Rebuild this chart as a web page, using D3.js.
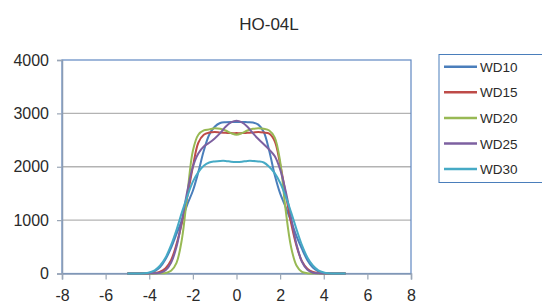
<!DOCTYPE html>
<html>
<head>
<meta charset="utf-8">
<script src="https://d3js.org/d3.v7.min.js"></script>
<style>
  body { margin: 0; background: #fff; }
  svg { display: block; font-family: "Liberation Sans", Arial, sans-serif; }
</style>
</head>
<body>
<svg width="542" height="305"></svg>
<script>
// data
var xs = [-5, -4.75, -4.5, -4.25, -4, -3.75, -3.5, -3.25, -3, -2.75, -2.5, -2.25, -2, -1.75, -1.5, -1.25, -1, -0.75, -0.5, -0.25,
          0, 0.25, 0.5, 0.75, 1, 1.25, 1.5, 1.75, 2, 2.25, 2.5, 2.75, 3, 3.25, 3.5, 3.75, 4, 4.25, 4.5, 4.75, 5];
var wd10 = [0, 0, 0, 3, 12, 45, 120, 270, 480, 740, 1000, 1300, 1550, 1900, 2300, 2600, 2750, 2820, 2835, 2840,
            2840, 2840, 2835, 2830, 2790, 2650, 2300, 1850, 1500, 1250, 980, 700, 460, 250, 110, 40, 12, 3, 0, 0, 0];
var wd15 = [0, 0, 0, 0, 2, 10, 35, 100, 250, 550, 950, 1450, 2000, 2450, 2600, 2640, 2650, 2640, 2635, 2630,
            2630, 2630, 2635, 2640, 2650, 2640, 2620, 2480, 2050, 1500, 950, 520, 230, 90, 30, 8, 2, 0, 0, 0, 0];
var wd20 = [0, 0, 0, 0, 0, 0, 3, 10, 50, 200, 650, 1500, 2300, 2600, 2680, 2700, 2720, 2710, 2680, 2630,
            2600, 2630, 2680, 2710, 2720, 2710, 2680, 2550, 2100, 1200, 500, 150, 30, 5, 0, 0, 0, 0, 0, 0, 0];
var wd25 = [0, 0, 0, 0, 2, 5, 15, 60, 200, 500, 1000, 1550, 2000, 2250, 2380, 2450, 2530, 2630, 2750, 2830,
            2860, 2830, 2750, 2630, 2520, 2420, 2320, 2200, 1950, 1550, 1050, 550, 220, 70, 15, 4, 1, 0, 0, 0, 0];
var wd30 = [0, 0, 0, 5, 20, 60, 150, 300, 530, 820, 1150, 1450, 1720, 1900, 2020, 2080, 2100, 2110, 2110, 2095,
            2090, 2095, 2110, 2110, 2100, 2080, 2000, 1880, 1700, 1450, 1150, 830, 530, 300, 150, 60, 20, 5, 0, 0, 0];
var seriesNames = ["WD10", "WD15", "WD20", "WD25", "WD30"];
var seriesValues = [wd10, wd15, wd20, wd25, wd30];
var colors = ["#4a7ebb", "#be4b48", "#98b954", "#7d60a0", "#46aac5"];
var xTicks = [-8, -6, -4, -2, 0, 2, 4, 6, 8];
var yTicks = [0, 1000, 2000, 3000, 4000];

var svg = d3.select("svg");
var plotL = 62, plotR = 411, plotT = 60, plotB = 273.5;

var x = d3.scaleLinear().domain([-8, 8]).range([plotL, plotR]);
var y = d3.scaleLinear().domain([0, 4000]).range([plotB, plotT]);

svg.append("text")
  .attr("x", 269).attr("y", 30)
  .attr("text-anchor", "middle")
  .attr("font-size", 17)
  .attr("fill", "#2a2a2a")
  .text("HO-04L");

// gridlines
svg.append("g").selectAll("line")
  .data(yTicks.slice(1, 4))
  .enter().append("line")
  .attr("x1", plotL).attr("x2", plotR)
  .attr("y1", function(d) { return y(d); })
  .attr("y2", function(d) { return y(d); })
  .attr("stroke", "#b3b3b3")
  .attr("stroke-width", 1.3);

// plot border
svg.append("rect")
  .attr("x", plotL).attr("y", plotT)
  .attr("width", plotR - plotL).attr("height", plotB - plotT)
  .attr("fill", "none")
  .attr("stroke", "#5f88c2")
  .attr("stroke-width", 1.2);

// axes
var plain = function(d) { return String(d); };
var yAxis = svg.append("g")
  .attr("transform", "translate(" + plotL + ",0)")
  .call(d3.axisLeft(y).tickValues(yTicks).tickFormat(plain).tickSize(5).tickPadding(8));
var xAxis = svg.append("g")
  .attr("transform", "translate(0," + plotB + ")")
  .call(d3.axisBottom(x).tickValues(xTicks).tickFormat(plain).tickSize(6).tickPadding(10));

[yAxis, xAxis].forEach(function(a) {
  a.select(".domain").attr("stroke", "#8a9cb5").attr("stroke-width", 1.5);
  a.selectAll(".tick line").attr("stroke", "#9aa6b6").attr("stroke-width", 1.2);
  a.selectAll(".tick text").attr("font-size", 16).attr("fill", "#2a2a2a")
    .attr("font-family", "Liberation Sans, Arial, sans-serif");
});

// lines
var line = d3.line()
  .x(function(d) { return x(d[0]); })
  .y(function(d) { return y(d[1]); })
  .curve(d3.curveCatmullRom.alpha(0.5));

seriesValues.forEach(function(vals, i) {
  svg.append("path")
    .datum(xs.map(function(v, j) { return [v, vals[j]]; }))
    .attr("fill", "none")
    .attr("stroke", colors[i])
    .attr("stroke-width", 2)
    .attr("d", line);
});

// legend
var lg = svg.append("g");
lg.append("rect")
  .attr("x", 439).attr("y", 54.5)
  .attr("width", 112).attr("height", 128)
  .attr("fill", "#fff")
  .attr("stroke", "#4a7ebb")
  .attr("stroke-width", 1);
seriesNames.forEach(function(name, i) {
  var cy = 66.7 + i * 25.6;
  lg.append("line")
    .attr("x1", 444).attr("x2", 477)
    .attr("y1", cy).attr("y2", cy)
    .attr("stroke", colors[i]).attr("stroke-width", 2.5);
  lg.append("text")
    .attr("x", 480).attr("y", cy + 5)
    .attr("font-size", 13.5)
    .attr("fill", "#2a2a2a")
    .text(name);
});
</script>
</body>
</html>
